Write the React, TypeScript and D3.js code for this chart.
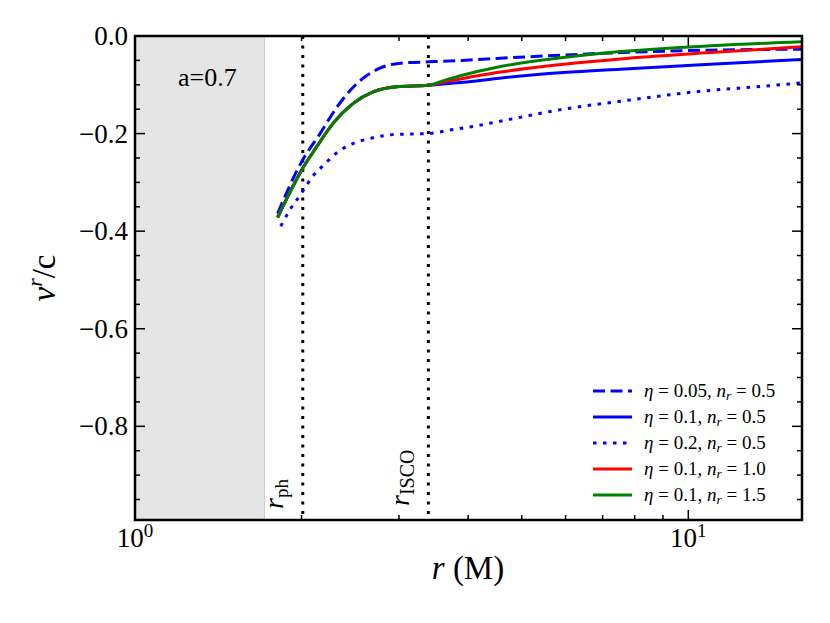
import React, { useEffect } from "react";
import * as d3 from "d3";

// inflow velocity profiles, a = 0.7
const rInner = [1.81, 1.9, 2.0, 2.13, 2.28, 2.48, 2.7, 2.97, 3.39];
const vInner = [-0.372, -0.323, -0.275, -0.227, -0.179, -0.138, -0.114, -0.104, -0.101];
const rOuter = [3.6, 3.92, 4.51, 5.95, 7.54, 10.96, 16];
const vEta01n05 = [-0.0985, -0.095, -0.087, -0.075, -0.068, -0.058, -0.048];
const vEta01n10 = [-0.095, -0.087, -0.075, -0.058, -0.047, -0.034, -0.022];
const vEta01n15 = [-0.092, -0.08, -0.064, -0.044, -0.032, -0.02, -0.012];

const rEta005 = [1.81, 2.0, 2.16, 2.32, 2.52, 2.77, 3.06, 3.39, 3.9, 4.51, 5.95, 7.54, 10.96, 16];
const vEta005 = [-0.364, -0.258, -0.2, -0.145, -0.097, -0.066, -0.055, -0.053, -0.05, -0.046, -0.039, -0.034, -0.029, -0.027];

const rEta02 = [1.834, 1.906, 2.0, 2.087, 2.19, 2.331, 2.482, 2.66, 2.871, 3.1, 3.39, 3.7, 4.1, 4.51, 5.95, 7.86, 10.37, 13.68, 16];
const vEta02 = [-0.39, -0.356, -0.322, -0.29, -0.265, -0.237, -0.22, -0.21, -0.203, -0.201, -0.2, -0.193, -0.185, -0.176, -0.15, -0.131, -0.114, -0.103, -0.096];

const rHorizon = 1.714;
const rPh = 2.01;
const rIsco = 3.39;

const yTicks = [0, -0.2, -0.4, -0.6, -0.8];
const yTickLabels = ["0.0", "\u22120.2", "\u22120.4", "\u22120.6", "\u22120.8"];
const xMajor = [1, 10];
const xMajorExp = ["0", "1"];
const xMinor = [2, 3, 4, 5, 6, 7, 8, 9];

type Series = { r: number[]; v: number[]; color: string; dash: string | null; eta: string; nr: string };

const series: Series[] = [
  { r: rEta005, v: vEta005, color: "#0000ff", dash: "12 5.5", eta: "0.05", nr: "0.5" },
  { r: [...rInner, ...rOuter], v: [...vInner, ...vEta01n05], color: "#0000ff", dash: null, eta: "0.1", nr: "0.5" },
  { r: rEta02, v: vEta02, color: "#0000ff", dash: "3.5 6.5", eta: "0.2", nr: "0.5" },
  { r: [...rInner, ...rOuter], v: [...vInner, ...vEta01n10], color: "#ff0000", dash: null, eta: "0.1", nr: "1.0" },
  { r: [...rInner, ...rOuter], v: [...vInner, ...vEta01n15], color: "#008000", dash: null, eta: "0.1", nr: "1.5" },
];

const W = 830;
const H = 623;
const m = { left: 135, right: 28, top: 36, bottom: 103 };
const FONT = "Liberation Serif";

const App = () => {
  useEffect(() => {
    document.body.style.margin = "0";
  }, []);

  const x = d3.scaleLog().domain([1, 16.05]).range([m.left, W - m.right]);
  const y = d3.scaleLinear().domain([-0.992, 0]).range([H - m.bottom, m.top]);
  const x0 = m.left, x1 = W - m.right, y0 = m.top, y1 = H - m.bottom;

  const line = d3
    .line<[number, number]>()
    .x((d) => x(d[0]))
    .y((d) => y(d[1]))
    .curve(d3.curveMonotoneX);

  const yMinor = d3.range(0, 20).map((i) => -i * 0.05).filter((v) => v >= -0.99);

  return (
    <svg width={W} height={H} style={{ position: "absolute", left: 0, top: 0 }}>
      <rect x={0} y={0} width={W} height={H} fill="#fff" />
      <clipPath id="plot">
        <rect x={x0} y={y0} width={x1 - x0} height={y1 - y0} />
      </clipPath>
      <rect x={x0} y={y0} width={x(rHorizon) - x0} height={y1 - y0} fill="#e5e5e5" />
      <line x1={x(rHorizon)} x2={x(rHorizon)} y1={y0} y2={y1} stroke="#cccccc" strokeWidth={1} />
      {[rPh, rIsco].map((r) => (
        <line key={r} x1={x(r)} x2={x(r)} y1={y0} y2={y1} stroke="#000" strokeWidth={3} strokeDasharray="3 6.5" />
      ))}
      <g clipPath="url(#plot)">
        {series.map((s, i) => (
          <path
            key={i}
            d={line(s.r.map((r, j) => [r, s.v[j]] as [number, number])) || ""}
            fill="none"
            stroke={s.color}
            strokeWidth={3}
            strokeDasharray={s.dash || undefined}
          />
        ))}
      </g>

      {/* ticks, inward on all sides */}
      {yMinor.map((v) => {
        const major = Math.abs(v / 0.2 - Math.round(v / 0.2)) < 1e-6;
        const len = major ? 10 : 5;
        return (
          <g key={v} stroke="#000" strokeWidth={1.5}>
            <line x1={x0} x2={x0 + len} y1={y(v)} y2={y(v)} />
            <line x1={x1} x2={x1 - len} y1={y(v)} y2={y(v)} />
          </g>
        );
      })}
      {xMinor.map((r) => (
        <g key={r} stroke="#000" strokeWidth={1.5}>
          <line x1={x(r)} x2={x(r)} y1={y1} y2={y1 - 5} />
          <line x1={x(r)} x2={x(r)} y1={y0} y2={y0 + 5} />
        </g>
      ))}
      {xMajor.map((r) => (
        <g key={r} stroke="#000" strokeWidth={1.5}>
          <line x1={x(r)} x2={x(r)} y1={y1} y2={y1 - 10} />
          <line x1={x(r)} x2={x(r)} y1={y0} y2={y0 + 10} />
        </g>
      ))}
      <rect x={x0} y={y0} width={x1 - x0} height={y1 - y0} fill="none" stroke="#000" strokeWidth={2.5} />

      {yTicks.map((v, i) => (
        <text key={v} x={x0 - 7} y={y(v) + 9} textAnchor="end" fontSize={27} fontFamily={FONT}>
          {yTickLabels[i]}
        </text>
      ))}
      {xMajor.map((r, i) => (
        <text key={r} x={x(r)} y={547} textAnchor="middle" fontSize={27} fontFamily={FONT}>
          10
          <tspan fontSize={19} dy={-10}>
            {xMajorExp[i]}
          </tspan>
        </text>
      ))}

      <text x={468} y={579} textAnchor="middle" fontSize={33} fontFamily={FONT}>
        <tspan fontStyle="italic">r</tspan> (M)
      </text>
      <text transform="translate(55,278) rotate(-90)" textAnchor="middle" fontSize={33} fontFamily={FONT}>
        <tspan fontStyle="italic">v</tspan>
        <tspan fontStyle="italic" fontSize={22} dy={-13}>
          r
        </tspan>
        <tspan dy={13}>/c</tspan>
      </text>

      <text x={178} y={86} fontSize={26} fontFamily={FONT}>
        a=0.7
      </text>
      <text transform={`translate(${x(rPh) - 20},509) rotate(-90)`} fontSize={28} fontFamily={FONT}>
        <tspan fontStyle="italic">r</tspan>
        <tspan fontSize={19} dy={5}>
          ph
        </tspan>
      </text>
      <text transform={`translate(${x(rIsco) - 19},506) rotate(-90)`} fontSize={28} fontFamily={FONT}>
        <tspan fontStyle="italic">r</tspan>
        <tspan fontSize={20} dy={5}>
          ISCO
        </tspan>
      </text>

      {/* legend */}
      {series.map((s, i) => {
        const ly = 391 + i * 26;
        return (
          <g key={i}>
            <line x1={593} x2={632} y1={ly} y2={ly} stroke={s.color} strokeWidth={3} strokeDasharray={s.dash || undefined} />
            <text x={644} y={ly + 6} fontSize={19} fontFamily={FONT}>
              <tspan fontStyle="italic">{"\u03b7"}</tspan>
              {` = ${s.eta}, `}
              <tspan fontStyle="italic">n</tspan>
              <tspan fontStyle="italic" fontSize={13.5} dy={3}>
                r
              </tspan>
              <tspan dy={-3}>{` = ${s.nr}`}</tspan>
            </text>
          </g>
        );
      })}
    </svg>
  );
};

export default App;
